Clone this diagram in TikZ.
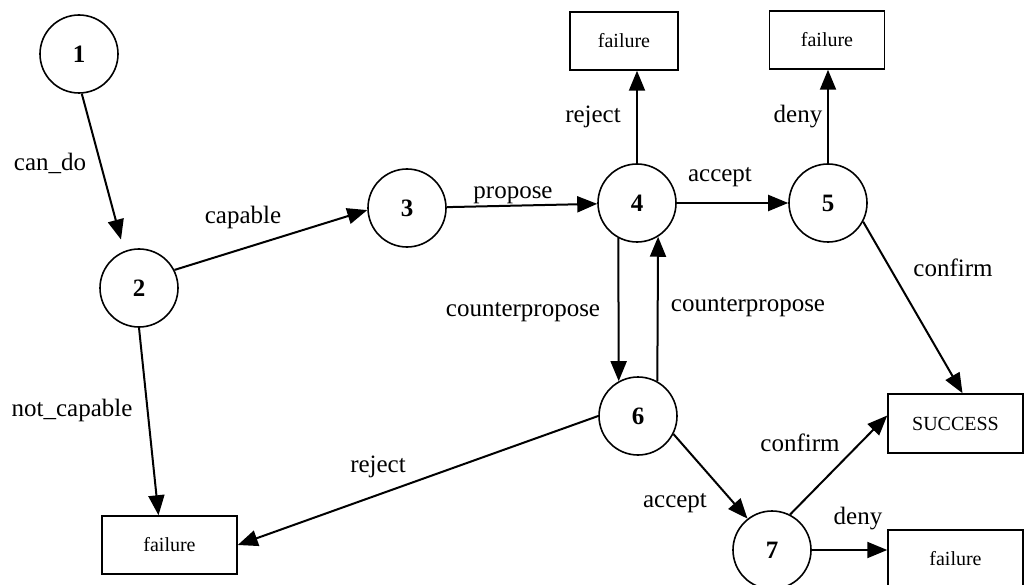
\documentclass[tikz,border=0pt]{standalone}
\usepackage{fontspec}
\setmainfont{Liberation Serif}
\usetikzlibrary{arrows.meta,calc}
\begin{document}
\begin{tikzpicture}[x=1pt,y=-1pt,
  state/.style={circle,draw,line width=1.6pt,minimum size=78pt,inner sep=0pt,font=\fontsize{25}{27}\selectfont\bfseries},
  endbox/.style={rectangle,draw,line width=1.5pt,inner sep=0pt,font=\fontsize{20}{22}\selectfont},
  arr/.style={line width=2pt,-{Triangle[length=20pt,width=16pt]}},
  lab/.style={font=\fontsize{25}{27}\selectfont,inner sep=0pt}]
\useasboundingbox[fill=white] (0,0) rectangle (1027,585);

% states
\node[state] (n1) at (79,54) {1};
\node[state] (n2) at (139,288) {2};
\node[state] (n3) at (407,208) {3};
\node[state] (n4) at (637,203) {4};
\node[state] (n5) at (828,203) {5};
\node[state] (n6) at (638,416) {6};
\node[state] (n7) at (772,550) {7};

% end boxes
\node[endbox,minimum width=108pt,minimum height=58pt] (f1) at (624,41) {failure};
\node[endbox,minimum width=115pt,minimum height=58pt] (f2) at (827,40) {failure};
\node[endbox,minimum width=135pt,minimum height=59pt] (succ) at (955.5,423.5) {SUCCESS};
\node[endbox,minimum width=135pt,minimum height=58pt] (fbl) at (169.5,545) {failure};
\node[endbox,minimum width=135pt,minimum height=58pt] (fbr) at (955.5,559) {failure};

% connectors
\draw[arr,shorten >=12pt] (n1.-86) -- (n2.112);
\draw[arr] (n2.27) -- (n3.183);
\draw[arr] (n3) -- (n4);
\draw[arr] (n4) -- (n5);
\draw[arr] (n4.north) -- (n4.north |- f1.south);
\draw[arr] (n5.north) -- (n5.north |- f2.south);
\draw[arr] (n5.-28) -- ($(succ.north)+(7,0)$);
\draw[arr] (n4.-118) -- (n6.119);
\draw[arr] (n6.61) -- (n4.-58);
\draw[arr] (n6.-27) -- (n7.128);
\draw[arr] (n7.63) -- ($(succ.west)+(0,-8)$);
\draw[arr] (n7.east) -- (n7.east -| fbr.west);
\draw[arr] (n6.west) -- (fbl.east);
\draw[arr] (n2.south) -- ($(fbl.north)+(-11,0)$);

% labels
\node[lab] (lcando) at (50,163) {can\_do};
\node[lab] (lcapable) at (243,217) {capable};
\node[lab] (lpropose) at (513,195) {propose};
\node[lab] (lreject4) at (593,117) {reject};
\node[lab] (laccept4) at (720,177) {accept};
\node[lab] (ldeny5) at (798,117) {deny};
\node[lab] (lconfirm5) at (953,268) {confirm};
\node[lab] (lcpl) at (523,312) {counterpropose};
\node[lab] (lcpr) at (748,307) {counterpropose};
\node[lab] (lnotcap) at (72,410) {not\_capable};
\node[lab] (lreject6) at (378,467) {reject};
\node[lab] (laccept6) at (675,503) {accept};
\node[lab] (lconfirm7) at (800,443) {confirm};
\node[lab] (ldeny7) at (858,519) {deny};
\end{tikzpicture}
\end{document}
